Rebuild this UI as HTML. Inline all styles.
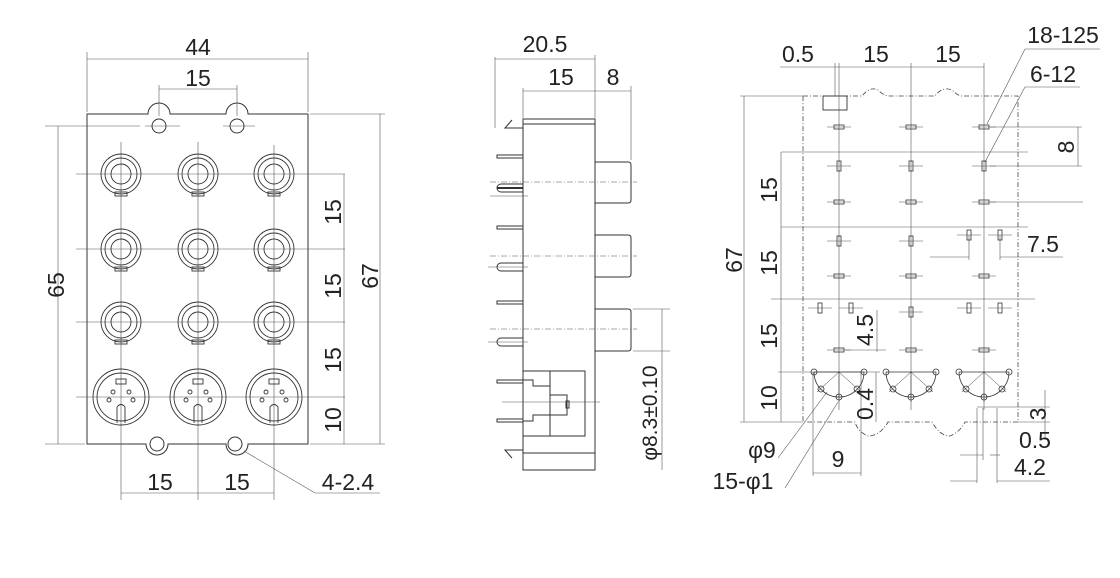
<!DOCTYPE html>
<html><head><meta charset="utf-8"><style>
html,body{margin:0;padding:0;background:#fff}
svg{display:block}
text{font-family:"Liberation Sans",sans-serif;font-size:23px;fill:#222}
</style></head><body>
<svg width="1120" height="578" viewBox="0 0 1120 578" xmlns="http://www.w3.org/2000/svg">
<defs>
<g id="jack" fill="none" stroke="#333" stroke-width="0.9">
<circle r="20"/><circle r="16"/><circle r="10"/>
<rect x="-6" y="18" width="12" height="4"/>
</g>
<g id="din" fill="none" stroke="#333" stroke-width="0.9">
<circle r="28"/><circle r="24"/>
<rect x="-5" y="-18" width="10" height="5"/>
<circle cx="-8" cy="-5" r="2"/><circle cx="8" cy="-5" r="2"/>
<circle cx="-12" cy="3" r="2"/><circle cx="12" cy="3" r="2"/>
<path d="M-4 26 L-4 10 Q0 5 4 10 L4 26"/>
</g>
<g id="padh"><rect x="-5" y="-2" width="10" height="4" fill="none" stroke="#333" stroke-width="0.8"/><line x1="-12" y1="0" x2="12" y2="0" stroke="#555" stroke-width="0.5"/></g>
<g id="padv"><rect x="-2" y="-5" width="4" height="10" fill="none" stroke="#333" stroke-width="0.8"/><line x1="-12" y1="0" x2="12" y2="0" stroke="#555" stroke-width="0.5"/></g>
<g id="semi" fill="none" stroke="#333" stroke-width="0.8">
<path d="M-25 0 A25 25 0 0 0 25 0"/>
<line x1="-25" y1="0" x2="25" y2="0"/>
<line x1="0" y1="0" x2="-22" y2="20" stroke-width="0.5"/><line x1="0" y1="0" x2="22" y2="20" stroke-width="0.5"/>
<line x1="0" y1="0" x2="0" y2="30" stroke-width="0.5"/>
<circle cx="-25" cy="0" r="3"/><circle cx="25" cy="0" r="3"/>
<circle cx="-18" cy="17" r="3"/><circle cx="18" cy="17" r="3"/><circle cx="0" cy="25" r="3"/>
</g>
</defs>

<!-- ===== LEFT VIEW ===== -->
<g fill="none" stroke="#333" stroke-width="1">
<path d="M87 114 L148 114 A11 11 0 0 1 170 114 L226 114 A11 11 0 0 1 248 114 L308 114 L308 444 L248 444 A11 11 0 0 1 226 444 L168 444 A11 11 0 0 1 146 444 L87 444 Z"/>
<circle cx="159" cy="126" r="7"/><circle cx="237" cy="126" r="7"/>
<circle cx="157" cy="444" r="7"/><circle cx="235" cy="444" r="7"/>
</g>
<g stroke="#555" stroke-width="0.6" fill="none">
<line x1="121" y1="142" x2="121" y2="500"/><line x1="198" y1="142" x2="198" y2="500"/><line x1="274" y1="145" x2="274" y2="500"/>
<line x1="76" y1="174" x2="345" y2="174"/><line x1="76" y1="249" x2="345" y2="249"/><line x1="76" y1="322" x2="345" y2="322"/><line x1="76" y1="397" x2="345" y2="397"/>
<line x1="145" y1="126" x2="180" y2="126"/><line x1="223" y1="126" x2="255" y2="126"/>
<line x1="87" y1="52" x2="87" y2="112"/><line x1="308" y1="52" x2="308" y2="112"/>
<line x1="87" y1="59" x2="308" y2="59"/>
<line x1="159" y1="85" x2="159" y2="116"/><line x1="237" y1="85" x2="237" y2="116"/>
<line x1="159" y1="89" x2="237" y2="89"/>
<line x1="45" y1="126" x2="140" y2="126"/><line x1="45" y1="444" x2="85" y2="444"/>
<line x1="58" y1="126" x2="58" y2="444"/>
<line x1="310" y1="114" x2="385" y2="114"/><line x1="310" y1="444" x2="385" y2="444"/>
<line x1="380" y1="114" x2="380" y2="444"/>
<line x1="344" y1="174" x2="344" y2="444"/>
<line x1="121" y1="493" x2="274" y2="493"/>
<path d="M244 451 L315 493 L380 493"/>
</g>
<use href="#jack" x="121" y="174"/><use href="#jack" x="198" y="174"/><use href="#jack" x="274" y="174"/>
<use href="#jack" x="121" y="249"/><use href="#jack" x="198" y="249"/><use href="#jack" x="274" y="249"/>
<use href="#jack" x="121" y="322"/><use href="#jack" x="198" y="322"/><use href="#jack" x="274" y="322"/>
<use href="#din" x="121" y="397"/><use href="#din" x="198" y="397"/><use href="#din" x="274" y="397"/>
<text x="198" y="55" text-anchor="middle">44</text>
<text x="198" y="86" text-anchor="middle">15</text>
<text transform="translate(64,285) rotate(-90)" text-anchor="middle">65</text>
<text transform="translate(378,276) rotate(-90)" text-anchor="middle">67</text>
<text transform="translate(341,212) rotate(-90)" text-anchor="middle">15</text>
<text transform="translate(341,286) rotate(-90)" text-anchor="middle">15</text>
<text transform="translate(341,360) rotate(-90)" text-anchor="middle">15</text>
<text transform="translate(341,420) rotate(-90)" text-anchor="middle">10</text>
<text x="160" y="490" text-anchor="middle">15</text>
<text x="237" y="490" text-anchor="middle">15</text>
<text x="348" y="490" text-anchor="middle">4-2.4</text>

<!-- ===== MIDDLE VIEW ===== -->
<g fill="none" stroke="#333" stroke-width="1">
<rect x="523" y="119" width="72" height="351"/>
<line x1="523" y1="124" x2="595" y2="124"/>
<line x1="523" y1="453" x2="595" y2="453"/>
<path d="M595 162 L628 162 Q631 162 631 165 L631 200 Q631 203 628 203 L595 203"/>
<path d="M595 235 L628 235 Q631 235 631 238 L631 274 Q631 277 628 277 L595 277"/>
<path d="M595 309 L628 309 Q631 309 631 312 L631 348 Q631 351 628 351 L595 351"/>
<path d="M523 371 L585 371 L585 436 L523 436"/>
<line x1="550" y1="371" x2="550" y2="436"/>
<path d="M523 380 L533 380 L533 386 L550 386"/>
<path d="M523 421 L533 421 L533 415 L550 415"/>
<rect x="550" y="395" width="17" height="20"/>
<rect x="566" y="401" width="3" height="7"/>
<path d="M523 128 L505 128 L512 120"/>
<path d="M523 450 L505 450 L512 458"/>
<rect x="497" y="155" width="26" height="3"/>
<rect x="497" y="226" width="26" height="3"/>
<rect x="497" y="301" width="26" height="3"/>
<rect x="497" y="380" width="26" height="3"/>
<rect x="497" y="419" width="26" height="3"/>
<path d="M523 184 L501 184 A4 4 0 0 0 501 192 L523 192"/>
<path d="M523 263 L501 263 A4 4 0 0 0 501 271 L523 271"/>
<path d="M523 338 L501 338 A4 4 0 0 0 501 346 L523 346"/>
<line x1="497" y1="188" x2="523" y2="188" stroke-width="2"/>
</g>
<g stroke="#555" stroke-width="0.6" fill="none">
<line x1="490" y1="182" x2="637" y2="182" stroke-dasharray="6 2 1 2"/>
<line x1="490" y1="256" x2="637" y2="256" stroke-dasharray="6 2 1 2"/>
<line x1="490" y1="329" x2="637" y2="329" stroke-dasharray="6 2 1 2"/>
<line x1="490" y1="196" x2="528" y2="196"/>
<line x1="488" y1="267" x2="528" y2="267"/>
<line x1="488" y1="342" x2="528" y2="342"/>
<line x1="502" y1="402" x2="600" y2="402"/>
<line x1="495" y1="57" x2="495" y2="128"/>
<line x1="523" y1="88" x2="523" y2="118"/>
<line x1="595" y1="55" x2="595" y2="118"/>
<line x1="631" y1="86" x2="631" y2="160"/>
<line x1="495" y1="59" x2="595" y2="59"/>
<line x1="523" y1="91" x2="631" y2="91"/>
<line x1="633" y1="309" x2="670" y2="309"/><line x1="633" y1="351" x2="670" y2="351"/>
<line x1="662" y1="309" x2="662" y2="470"/>
</g>
<text x="545" y="52" text-anchor="middle">20.5</text>
<text x="561" y="85" text-anchor="middle">15</text>
<text x="613" y="85" text-anchor="middle">8</text>
<text transform="translate(657,413) rotate(-90)" text-anchor="middle" style="font-size:21px">φ8.3±0.10</text>

<!-- ===== RIGHT VIEW ===== -->
<g fill="none" stroke="#444" stroke-width="0.8" stroke-dasharray="5 2 1 2">
<path d="M803 96 L862 96 Q870 86 878 90 Q884 96 890 96 L935 96 Q942 86 952 90 Q958 96 962 96 L1018 96 L1018 422 L965 422 Q960 432 950 436 Q940 436 932 422 L888 422 Q880 436 868 436 Q858 432 855 422 L803 422 Z"/>
</g>
<rect x="823" y="96" width="24" height="14" fill="none" stroke="#333" stroke-width="0.9"/>
<g stroke="#555" stroke-width="0.6" fill="none">
<line x1="839" y1="63" x2="839" y2="410"/><line x1="911" y1="63" x2="911" y2="410"/><line x1="984" y1="63" x2="984" y2="410"/>
<line x1="835" y1="63" x2="835" y2="96"/>
<line x1="780" y1="67" x2="984" y2="67"/>
<line x1="740" y1="96" x2="803" y2="96"/><line x1="740" y1="422" x2="803" y2="422"/>
<line x1="744" y1="96" x2="744" y2="422"/>
<line x1="781" y1="152" x2="781" y2="422"/>
<line x1="781" y1="152" x2="1028" y2="152"/>
<line x1="781" y1="227" x2="1028" y2="227"/>
<line x1="771" y1="299" x2="1035" y2="299"/>
<line x1="778" y1="372" x2="880" y2="372"/>
<line x1="990" y1="127" x2="1082" y2="127"/><line x1="990" y1="166" x2="1082" y2="166"/>
<line x1="1078" y1="127" x2="1078" y2="166"/>
<line x1="990" y1="202" x2="1083" y2="202"/>
<line x1="969" y1="235" x2="969" y2="260"/><line x1="1000" y1="235" x2="1000" y2="260"/>
<line x1="930" y1="257" x2="969" y2="257"/><line x1="1000" y1="257" x2="1063" y2="257"/>
<line x1="877" y1="310" x2="877" y2="352"/>
<line x1="845" y1="350" x2="886" y2="350"/>
<line x1="876" y1="372" x2="876" y2="422"/>
<line x1="813" y1="372" x2="813" y2="476"/><line x1="861" y1="372" x2="861" y2="476"/>
<line x1="813" y1="473" x2="861" y2="473"/>
<path d="M1025 49 L1100 49 M1025 49 L987 124"/>
<path d="M1025 87 L1080 87 M1025 87 L985 162"/>
<path d="M827 392 L778 458 M838 402 L785 488"/>
<line x1="977" y1="408" x2="977" y2="483"/><line x1="983" y1="408" x2="983" y2="460"/><line x1="997" y1="408" x2="997" y2="483"/>
<line x1="977" y1="407" x2="1050" y2="407"/><line x1="1018" y1="422" x2="1050" y2="422"/>
<line x1="1045" y1="390" x2="1045" y2="440"/>
<line x1="960" y1="455" x2="983" y2="455"/><line x1="990" y1="455" x2="1000" y2="455"/>
<line x1="950" y1="481" x2="977" y2="481"/><line x1="997" y1="481" x2="1050" y2="481"/>
</g>
<use href="#padh" x="839" y="127"/><use href="#padh" x="911" y="127"/><use href="#padh" x="984" y="127"/>
<use href="#padv" x="839" y="166"/><use href="#padv" x="911" y="166"/><use href="#padv" x="984" y="166"/>
<use href="#padh" x="839" y="202"/><use href="#padh" x="911" y="202"/><use href="#padh" x="984" y="202"/>
<use href="#padv" x="839" y="241"/><use href="#padv" x="911" y="241"/>
<use href="#padv" x="969" y="235"/><use href="#padv" x="1000" y="235"/>
<use href="#padh" x="839" y="276"/><use href="#padh" x="911" y="276"/><use href="#padh" x="984" y="276"/>
<use href="#padv" x="820" y="308"/><use href="#padv" x="851" y="308"/><use href="#padv" x="911" y="312"/>
<use href="#padv" x="969" y="308"/><use href="#padv" x="1000" y="308"/>
<use href="#padh" x="839" y="350"/><use href="#padh" x="911" y="350"/><use href="#padh" x="984" y="350"/>
<use href="#semi" x="839" y="372"/><use href="#semi" x="911" y="372"/><use href="#semi" x="984" y="372"/>
<text x="798" y="62" text-anchor="middle">0.5</text>
<text x="876" y="62" text-anchor="middle">15</text>
<text x="948" y="62" text-anchor="middle">15</text>
<text x="1063" y="43" text-anchor="middle">18-125</text>
<text x="1053" y="82" text-anchor="middle">6-12</text>
<text transform="translate(1074,147) rotate(-90)" text-anchor="middle">8</text>
<text x="1043" y="252" text-anchor="middle">7.5</text>
<text transform="translate(742,260) rotate(-90)" text-anchor="middle">67</text>
<text transform="translate(777,190) rotate(-90)" text-anchor="middle">15</text>
<text transform="translate(777,263) rotate(-90)" text-anchor="middle">15</text>
<text transform="translate(777,336) rotate(-90)" text-anchor="middle">15</text>
<text transform="translate(777,398) rotate(-90)" text-anchor="middle">10</text>
<text transform="translate(873,330) rotate(-90)" text-anchor="middle">4.5</text>
<text transform="translate(873,404) rotate(-90)" text-anchor="middle">0.4</text>
<text x="838" y="467" text-anchor="middle">9</text>
<text x="762" y="458" text-anchor="middle">φ9</text>
<text x="743" y="489" text-anchor="middle">15-φ1</text>
<text transform="translate(1046,414) rotate(-90)" text-anchor="middle">3</text>
<text x="1035" y="448" text-anchor="middle">0.5</text>
<text x="1030" y="475" text-anchor="middle">4.2</text>
</svg>
</body></html>
